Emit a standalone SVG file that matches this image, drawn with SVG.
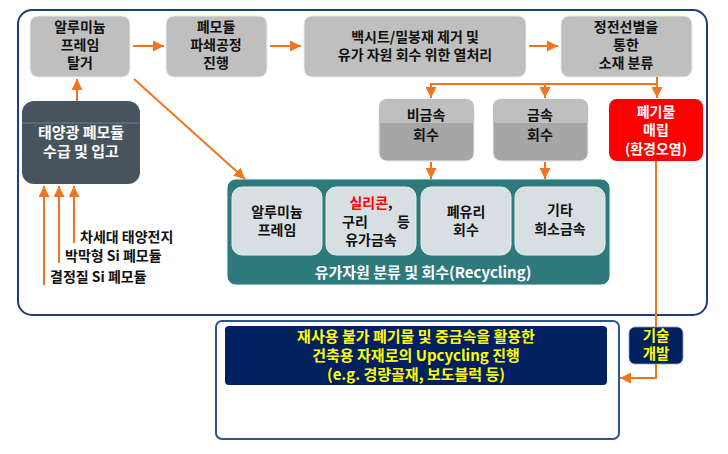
<svg xmlns="http://www.w3.org/2000/svg" width="728" height="454" viewBox="0 0 728 454">
<defs>
<marker id="ah" viewBox="0 0 10 10" refX="10" refY="5" markerWidth="11" markerHeight="11" markerUnits="userSpaceOnUse" orient="auto"><path d="M0,0 L10,5 L0,10 z" fill="#ee7623"/></marker>
<style>
text{font-family:"Noto Sans CJK KR","Noto Sans",sans-serif;font-weight:bold;text-anchor:middle}
.t14{font-size:14px;fill:#111}
.wt{font-size:14px;fill:#fff}
.w15{font-size:15px;fill:#fff}
.y15{font-size:15px;fill:#ffff00}
.gray{fill:#bfbfbf;stroke:#ececec;stroke-width:1}
.light{fill:#d7dfe2;stroke:#e9eef0;stroke-width:1}
.con{stroke:#ee7623;stroke-width:2;fill:none}
.lab{font-size:14px;fill:#111;text-anchor:start}
</style>
</defs>
<rect x="18" y="10" width="689" height="305" rx="14" fill="#fff" stroke="#1f3d7a" stroke-width="2"/>

<g id="n_frame"><rect class="gray" x="30" y="16" width="100" height="61" rx="8"/>
<text class="t14" x="80" y="32">알루미늄<tspan x="80" dy="18">프레임</tspan><tspan x="80" dy="18">탈거</tspan></text></g>
<g id="n_crush"><rect class="gray" x="166" y="16" width="101" height="61" rx="8"/>
<text class="t14" x="216" y="32">폐모듈<tspan x="216" dy="18">파쇄공정</tspan><tspan x="216" dy="18">진행</tspan></text></g>
<g id="n_heat"><rect class="gray" x="304" y="16" width="222" height="61" rx="8"/>
<text class="t14" x="415" y="42">백시트/밀봉재 제거 및<tspan x="415" dy="18">유가 자원 회수 위한 열처리</tspan></text></g>
<g id="n_sort"><rect class="gray" x="561" y="16" width="131" height="61" rx="8"/>
<text class="t14" x="626" y="32">정전선별을<tspan x="626" dy="18">통한</tspan><tspan x="626" dy="18">소재 분류</tspan></text></g>

<g id="n_nonmetal"><rect x="379" y="99" width="95" height="62" rx="8" fill="#a6a6a6" stroke="#ececec"/>
<path d="M379,123 V107 a8,8 0 0 1 8,-8 H466 a8,8 0 0 1 8,8 V123 z" fill="#bfbfbf"/>
<text class="t14" x="426" y="120">비금속<tspan x="426" dy="20">회수</tspan></text></g>
<g id="n_metal"><rect x="493" y="99" width="95" height="62" rx="8" fill="#a6a6a6" stroke="#ececec"/>
<path d="M493,123 V107 a8,8 0 0 1 8,-8 H580 a8,8 0 0 1 8,8 V123 z" fill="#bfbfbf"/>
<text class="t14" x="540" y="120">금속<tspan x="540" dy="20">회수</tspan></text></g>
<g id="n_landfill"><rect x="609" y="99" width="94" height="62" rx="8" fill="#ff0000"/>
<text class="wt" x="656" y="117">폐기물<tspan x="656" dy="18">매립</tspan><tspan x="656" dy="19">(환경오염)</tspan></text></g>

<g id="n_supply"><rect x="22" y="101" width="118" height="83" rx="12" fill="#47545e"/>
<line x1="22" y1="123" x2="140" y2="123" stroke="#7d8a93" stroke-width="0.8"/>
<text class="w15" x="81" y="138">태양광 폐모듈<tspan x="81" dy="19">수급 및 입고</tspan></text></g>

<g id="n_recycle"><rect x="227" y="179" width="383" height="106" rx="9" fill="#2e797c" stroke="#e6eeee"/>
<rect class="light" x="232" y="187" width="90" height="68" rx="10"/>
<text class="t14" x="277" y="217">알루미늄<tspan x="277" dy="18">프레임</tspan></text>
<rect class="light" x="326" y="187" width="90" height="68" rx="10"/>
<text class="t14" x="371" y="208"><tspan fill="#ff0000">실리콘</tspan>,<tspan x="342" dy="19" style="text-anchor:start">구리</tspan><tspan x="410" style="text-anchor:end">등</tspan><tspan x="371" dy="18">유가금속</tspan></text>
<rect class="light" x="421" y="187" width="90" height="68" rx="10"/>
<text class="t14" x="466" y="217">폐유리<tspan x="466" dy="18">회수</tspan></text>
<rect class="light" x="515" y="187" width="90" height="68" rx="10"/>
<text class="t14" x="560" y="215">기타<tspan x="560" dy="19">희소금속</tspan></text>
<text class="w15" x="423" y="278">유가자원 분류 및 회수(Recycling)</text></g>

<g id="n_labels">
<text class="lab" x="80" y="242">차세대 태양전지</text>
<text class="lab" x="65" y="261">박막형 Si 폐모듈</text>
<text class="lab" x="50" y="282">결정질 Si 폐모듈</text></g>

<g id="n_upcycle"><rect x="216" y="321" width="403" height="118" rx="6" fill="#fff" stroke="#2f5496" stroke-width="2"/>
<rect x="225" y="326" width="382" height="59" rx="4" fill="#002060"/>
<text class="y15" x="416" y="342">재사용 불가 폐기물 및 중금속을 활용한<tspan x="416" dy="19">건축용 자재로의 Upcycling 진행</tspan><tspan x="416" dy="19">(e.g. 경량골재, 보도블럭 등)</tspan></text></g>

<g id="n_tech"><rect x="629" y="327" width="54" height="37" rx="6" fill="#002060" stroke="#8ea3c4" stroke-width="0.8"/>
<text class="y15" x="656" y="341" style="font-size:14.5px">기술<tspan x="656" dy="18">개발</tspan></text></g>

<g id="connectors">
<line class="con" x1="133" y1="46" x2="164" y2="46" marker-end="url(#ah)"/>
<line class="con" x1="270" y1="46" x2="301" y2="46" marker-end="url(#ah)"/>
<line class="con" x1="529" y1="46" x2="558" y2="46" marker-end="url(#ah)"/>
<line class="con" x1="77" y1="101" x2="77" y2="79" marker-end="url(#ah)"/>
<line class="con" x1="134" y1="79" x2="245" y2="179" marker-end="url(#ah)"/>
<polyline class="con" points="657,77 657,84 431,84"/>
<line class="con" x1="431" y1="83" x2="431" y2="98" marker-end="url(#ah)"/>
<line class="con" x1="545" y1="84" x2="545" y2="98" marker-end="url(#ah)"/>
<line class="con" x1="657" y1="84" x2="657" y2="98" marker-end="url(#ah)"/>
<line class="con" x1="431" y1="162" x2="431" y2="179" marker-end="url(#ah)"/>
<line class="con" x1="545" y1="162" x2="545" y2="179" marker-end="url(#ah)"/>
<line class="con" x1="44" y1="285" x2="44" y2="186" marker-end="url(#ah)"/>
<line class="con" x1="59" y1="263" x2="59" y2="186" marker-end="url(#ah)"/>
<line class="con" x1="74" y1="243" x2="74" y2="186" marker-end="url(#ah)"/>
<line class="con" x1="656" y1="161" x2="656" y2="327"/>
<polyline class="con" points="656,364 656,378 620,378" marker-end="url(#ah)"/>
</g>
</svg>
